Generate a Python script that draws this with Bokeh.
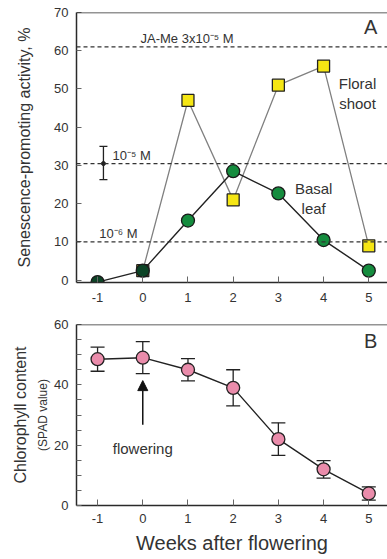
from bokeh.plotting import figure
from bokeh.models import (Range1d, Span, Label, Whisker, ColumnDataSource, Arrow,
                          NormalHead, TeeHead, FixedTicker, LinearAxis)
from bokeh.layouts import column
from bokeh.embed import file_html
from bokeh.resources import INLINE

# ---------------- data ----------------
weeks = [-1, 0, 1, 2, 3, 4, 5]
week_labels = ["-1", "0", "1", "2", "3", "4", "5"]
basal_leaf = [-0.5, 2.5, 15.6, 28.5, 22.7, 10.5, 2.5]
basal_colors = ["#0c4426", "#0c4426", "#158c3e", "#158c3e", "#158c3e", "#158c3e", "#158c3e"]
floral_weeks = [0, 1, 2, 3, 4, 5]
floral_shoot = [2.5, 47, 21, 51, 56, 9]
ref_levels = [61, 30.5, 10]
ref_labels = ["JA-Me 3x10⁻⁵ M", "10⁻⁵ M", "10⁻⁶ M"]
ref_label_x = [-0.05, -0.67, -0.96]
ref_label_y = [63.2, 32.6, 12.3]
sd_x = [-0.87]
sd_mid = [30.5]
sd_low = [26.3]
sd_high = [35.0]
chlorophyll = [48.5, 49, 45, 39, 22, 12, 4]
chlorophyll_err = [4.0, 5.3, 3.7, 6.0, 5.4, 2.9, 2.2]
y_ticks_a = [0, 10, 20, 30, 40, 50, 60, 70]
y_ticks_b = [0, 20, 40, 60]
y_minor_b = [5, 10, 15, 25, 30, 35, 45, 50, 55]

FONT = "Liberation Sans"
TXT = "#333333"
AX = "#2a2a2a"

def style(p, yt, yminor=None):
    p.outline_line_color = None
    p.grid.visible = False
    p.background_fill_color = "white"
    p.border_fill_color = "white"
    for ax in (p.xaxis[0], p.yaxis[0]):
        ax.axis_line_color = AX
        ax.axis_line_width = 1.5
        ax.major_tick_line_color = "#666666"
        ax.major_tick_line_width = 1
        ax.major_tick_in = 6
        ax.major_tick_out = 0
        ax.minor_tick_in = 0
        ax.minor_tick_out = 0
        ax.major_label_text_font = FONT
        ax.major_label_text_font_size = "13px"
        ax.major_label_text_color = TXT
        ax.axis_label_text_font = FONT
        ax.axis_label_text_font_style = "normal"
        ax.axis_label_text_color = TXT
    p.xaxis[0].ticker = FixedTicker(ticks=weeks)
    p.xaxis[0].major_label_overrides = dict(zip(weeks, week_labels))
    if yminor:
        p.yaxis[0].ticker = FixedTicker(ticks=yt, minor_ticks=yminor)
        p.yaxis[0].minor_tick_in = 5
        p.yaxis[0].minor_tick_line_color = "#666666"
    else:
        p.yaxis[0].ticker = FixedTicker(ticks=yt)
    p.yaxis[0].major_tick_in = 5
    p.yaxis[0].major_label_standoff = 8
    # top border
    p.add_layout(Span(location=p.y_range.end, dimension="width", line_color=AX, line_width=1.5))

# ---------------- panel A ----------------
pa = figure(width=387, height=307, x_range=Range1d(-1.466, 5.414), y_range=Range1d(-0.6, 70),
            output_backend="svg", toolbar_location=None,
            min_border_left=76, min_border_right=0, min_border_top=12, min_border_bottom=25)
style(pa, y_ticks_a)
pa.xaxis[0].major_label_standoff = 10
pa.yaxis[0].axis_label = "Senescence-promoting activity, %"
pa.yaxis[0].axis_label_text_font_size = "16px"
pa.yaxis[0].axis_label_standoff = 18

for lvl in ref_levels:
    pa.add_layout(Span(location=lvl, dimension="width", line_color="#333333",
                       line_width=1.3, line_dash="4 3"))
for lx, ly, lt in zip(ref_label_x, ref_label_y, ref_labels):
    pa.add_layout(Label(x=lx, y=ly, text=lt, text_font=FONT, text_font_size="13px",
                        text_color=TXT, text_baseline="middle", text_align="left"))

# error bar (SD)
sd_src = ColumnDataSource(dict(x=sd_x, lo=sd_low, hi=sd_high, mid=sd_mid))
pa.add_layout(Whisker(base="x", lower="lo", upper="hi", source=sd_src, line_color="#222222",
                      line_width=1.3,
                      upper_head=TeeHead(size=8, line_color="#222222", line_width=1.3),
                      lower_head=TeeHead(size=8, line_color="#222222", line_width=1.3)))
pa.scatter("x", "mid", source=sd_src, size=4, color="#222222")

# floral shoot
pa.line(floral_weeks, floral_shoot, line_color="#808080", line_width=1.3)
pa.scatter(floral_weeks, floral_shoot, marker="square", size=12, fill_color="#f5e614",
           line_color="#222222", line_width=1.3)
# basal leaf
pa.line(weeks, basal_leaf, line_color="#222222", line_width=1.4)
pa.scatter(weeks, basal_leaf, marker="circle", size=13, fill_color=basal_colors,
           line_color="#1a1a1a", line_width=1.3)

for t, x, y, fs in [("A", 5.04, 66.1, "20px"), ("Floral", 4.75, 51.5, "15px"),
                    ("shoot", 4.75, 46.2, "15px"), ("Basal", 3.78, 24.0, "15px"),
                    ("leaf", 3.78, 18.7, "15px")]:
    pa.add_layout(Label(x=x, y=y, text=t, text_font=FONT, text_font_size=fs, text_color=TXT,
                        text_align="center", text_baseline="middle"))

# ---------------- panel B ----------------
pb = figure(width=387, height=252, x_range=Range1d(-1.466, 5.414), y_range=Range1d(0, 60),
            output_backend="svg", toolbar_location=None,
            min_border_left=76, min_border_right=0, min_border_top=17, min_border_bottom=54)
style(pb, y_ticks_b, y_minor_b)
pb.xaxis[0].major_label_standoff = 8
pb.xaxis[0].axis_label = "Weeks after flowering"
pb.xaxis[0].axis_label_text_font_size = "20px"
pb.xaxis[0].axis_label_standoff = 6
pb.yaxis[0].axis_label = "(SPAD value)"
pb.yaxis[0].axis_label_text_font_size = "12px"
pb.yaxis[0].axis_label_standoff = 1
outer = LinearAxis(ticker=FixedTicker(ticks=[]), axis_line_color=None,
                   major_tick_line_color=None, minor_tick_line_color=None,
                   axis_label="Chlorophyll content", axis_label_text_font=FONT,
                   axis_label_text_font_size="16px", axis_label_text_font_style="normal",
                   axis_label_text_color=TXT, axis_label_standoff=5)
pb.add_layout(outer, "left")

chl_src = ColumnDataSource(dict(x=weeks, y=chlorophyll,
                                lo=[v - e for v, e in zip(chlorophyll, chlorophyll_err)],
                                hi=[v + e for v, e in zip(chlorophyll, chlorophyll_err)]))
pb.add_layout(Whisker(base="x", lower="lo", upper="hi", source=chl_src, line_color="#222222",
                      line_width=1.3,
                      upper_head=TeeHead(size=14, line_color="#222222", line_width=1.3),
                      lower_head=TeeHead(size=14, line_color="#222222", line_width=1.3)))
pb.line("x", "y", source=chl_src, line_color="#222222", line_width=1.4)
pb.scatter("x", "y", source=chl_src, marker="circle", size=13, fill_color="#ea8cab",
           line_color="#222222", line_width=1.3)

pb.add_layout(Arrow(end=NormalHead(size=10, fill_color="#111111", line_color="#111111"),
                    x_start=0, y_start=26.8, x_end=0, y_end=41.4,
                    line_color="#111111", line_width=1.5))
pb.add_layout(Label(x=0, y=19, text="flowering", text_font=FONT, text_font_size="15px",
                    text_color=TXT, text_align="center", text_baseline="middle"))
pb.add_layout(Label(x=5.04, y=54.6, text="B", text_font=FONT, text_font_size="20px",
                    text_color=TXT, text_align="center", text_baseline="middle"))

layout = column(pa, pb, spacing=0)
open("out.html", "w").write(file_html(layout, INLINE))
